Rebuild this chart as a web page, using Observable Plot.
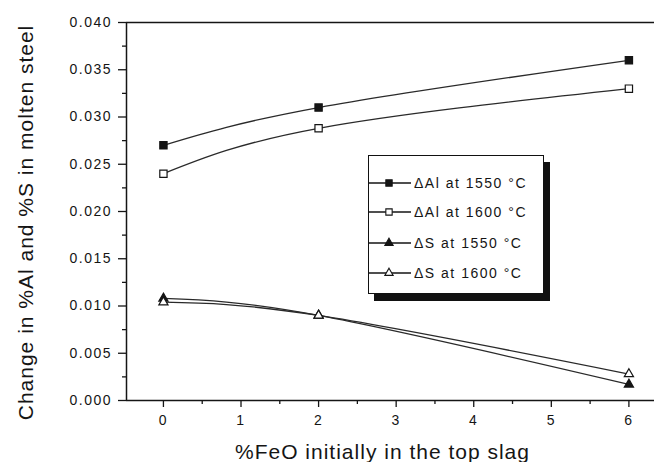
<!DOCTYPE html>
<html>
<head>
<meta charset="utf-8">
<script src="https://cdn.jsdelivr.net/npm/d3@7"></script>
<script src="https://cdn.jsdelivr.net/npm/@observablehq/plot@0.6"></script>
<style>
  body { margin: 0; background: #fff; }
  #wrap { position: relative; width: 654px; height: 462px; overflow: hidden; }
  svg text { font-family: "Liberation Sans", Arial, sans-serif; fill: #151515; }
  g[aria-label="y-axis tick label"] text, g[aria-label="x-axis tick label"] text { font-size: 14px; letter-spacing: 1.5px; }
  g[aria-label="y-axis label"] text, g[aria-label="x-axis label"] text { font-size: 21px; letter-spacing: 1px; }
  #legend { position: absolute; left: 368px; top: 155px; width: 174px; height: 137px; border: 1px solid #111; background: #fff; box-shadow: 6px 7px 0 #111; font-family: "Liberation Sans", Arial, sans-serif; font-size: 14px; letter-spacing: 1.5px; color: #151515; }
  .row { position: absolute; left: 0; height: 16px; display: flex; align-items: center; }
  .row svg { display: block; }
  .row span { margin-left: 3px; }
</style>
</head>
<body>
<div id="wrap"></div>
<script>
const feo = [0, 2, 6];
const al1550 = [0.027, 0.031, 0.036];
const al1600 = [0.024, 0.0288, 0.033];
const s1550 = [0.0108, 0.009, 0.0017];
const s1600 = [0.0104, 0.009, 0.0028];
const seriesNames = ["ΔAl at 1550 °C", "ΔAl at 1600 °C", "ΔS at 1550 °C", "ΔS at 1600 °C"];
const seriesValues = [al1550, al1600, s1550, s1600];
const seriesSymbols = ["square", "square", "triangle", "triangle"];
const seriesFilled = [true, false, true, false];
const yTicks = [0, 0.005, 0.01, 0.015, 0.02, 0.025, 0.03, 0.035, 0.04];
const yMinor = [0.0025, 0.0075, 0.0125, 0.0175, 0.0225, 0.0275, 0.0325, 0.0375];
const xTicks = [0, 1, 2, 3, 4, 5, 6];
const xMinor = [0.5, 1.5, 2.5, 3.5, 4.5, 5.5];

const data = [];
seriesNames.forEach((name, i) => {
  feo.forEach((x, j) => data.push({series: name, x, y: seriesValues[i][j]}));
});

const ink = "#151515";
const lineInk = "#2a2a2a";
const marks = [
  Plot.ruleY([0.04], {stroke: ink, strokeWidth: 1.5}),
  Plot.ruleY([0], {stroke: ink, strokeWidth: 1.5}),
  Plot.ruleX([-0.476], {stroke: ink, strokeWidth: 1.5}),
  Plot.axisY({ticks: yTicks, tickSize: 8, tickPadding: 6.5, tickFormat: d3.format(".3f"), label: "Change in %Al and %S in molten steel", labelAnchor: "center", labelArrow: "none", labelOffset: 108, stroke: ink, strokeWidth: 1.3}),
  Plot.axisY({ticks: yMinor, tickSize: 4, text: null, label: null, stroke: ink, strokeWidth: 1.3}),
  Plot.axisX({ticks: xTicks, tickSize: 7, tickPadding: 8, tickFormat: d3.format("d"), label: "%FeO initially in the top slag", labelAnchor: "center", labelArrow: "none", labelOffset: 58, stroke: ink, strokeWidth: 1.3}),
  Plot.axisX({ticks: xMinor, tickSize: 4, text: null, label: null, stroke: ink, strokeWidth: 1.3}),
];
seriesNames.forEach((name, i) => {
  const d = data.filter(r => r.series === name);
  marks.push(Plot.line(d, {x: "x", y: "y", curve: "natural", stroke: lineInk, strokeWidth: 1.3}));
});
seriesNames.forEach((name, i) => {
  const d = data.filter(r => r.series === name);
  marks.push(Plot.dot(d, {x: "x", y: "y", symbol: seriesSymbols[i], r: seriesSymbols[i] === "square" ? 4.1 : 3.4, fill: seriesFilled[i] ? ink : "white", stroke: ink, strokeWidth: 1.2}));
});

const chart = Plot.plot({
  width: 654,
  height: 462,
  marginLeft: 126,
  marginRight: 0,
  marginTop: 22,
  marginBottom: 62,
  x: {domain: [-0.476, 6.33]},
  y: {domain: [0, 0.04]},
  style: {fontFamily: "Liberation Sans, Arial, sans-serif", background: "white", overflow: "visible"},
  marks
});
const wrap = document.getElementById("wrap");
wrap.appendChild(chart);

// nudge the axis titles to sit where the reference has them
function nudge(sel, dx, dy) {
  const g = chart.querySelector(sel);
  if (!g) return;
  const t = g.getAttribute("transform") || "";
  g.setAttribute("transform", `translate(${dx},${dy}) ${t}`);
}
nudge('g[aria-label="y-axis label"]', 0, 11);
nudge('g[aria-label="x-axis label"]', -8, 0);

// legend
const legend = document.createElement("div");
legend.id = "legend";
const rowTops = [19, 48, 79, 109];
seriesNames.forEach((name, i) => {
  const row = document.createElement("div");
  row.className = "row";
  row.style.top = rowTops[i] + "px";
  const s = d3.create("svg").attr("width", 42).attr("height", 16);
  s.append("line").attr("x1", 0).attr("x2", 42).attr("y1", 8).attr("y2", 8).attr("stroke", ink).attr("stroke-width", 1.3);
  const sym = seriesSymbols[i] === "square" ? d3.symbolSquare : d3.symbolTriangle;
  const size = seriesSymbols[i] === "square" ? 40 : 30;
  s.append("path").attr("d", d3.symbol(sym, size)()).attr("transform", "translate(20,8)")
    .attr("fill", seriesFilled[i] ? ink : "white").attr("stroke", ink).attr("stroke-width", 1.1);
  row.appendChild(s.node());
  const t = document.createElement("span");
  t.textContent = name;
  row.appendChild(t);
  legend.appendChild(row);
});
wrap.appendChild(legend);
</script>
</body>
</html>
